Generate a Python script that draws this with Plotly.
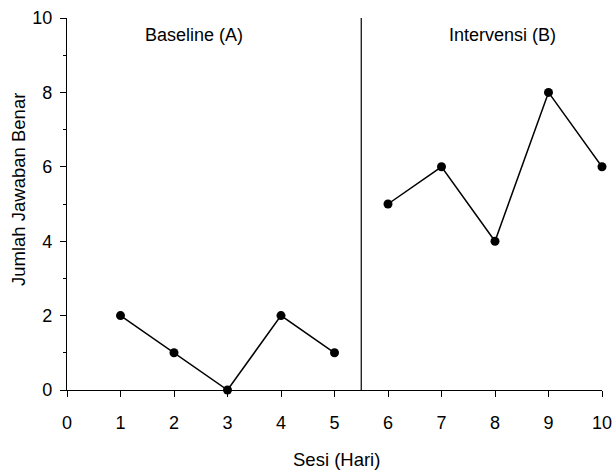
import plotly.graph_objects as go

sesi_a = [1, 2, 3, 4, 5]
nilai_a = [2, 1, 0, 2, 1]
sesi_b = [6, 7, 8, 9, 10]
nilai_b = [5, 6, 4, 8, 6]
phase_labels = ["Baseline (A)", "Intervensi (B)"]
phase_label_x = [2.38, 8.14]
phase_change = 5.5
x_title = "Sesi (Hari)"
y_title = "Jumlah Jawaban Benar"

font = "Liberation Sans, Arial, sans-serif"
fig = go.Figure()
for xs, ys in [(sesi_a, nilai_a), (sesi_b, nilai_b)]:
    fig.add_trace(go.Scatter(x=xs, y=ys, mode="lines+markers",
                             line=dict(color="black", width=1.5),
                             marker=dict(color="black", size=9),
                             cliponaxis=False, showlegend=False))

fig.add_shape(type="line", x0=phase_change, x1=phase_change, y0=0, y1=10,
              xref="x", yref="y", line=dict(color="black", width=1.2))
for lab, lx in zip(phase_labels, phase_label_x):
    fig.add_annotation(x=lx, y=9.54, text=lab, showarrow=False, xref="x", yref="y",
                       font=dict(family=font, size=18, color="black"))

fig.add_annotation(x=0.503, y=0, xref="paper", yref="paper", yshift=-69, text=x_title,
                   showarrow=False, xanchor="center", yanchor="middle",
                   font=dict(family=font, size=18.5, color="black"))
fig.add_annotation(x=0, y=0.5376, xref="paper", yref="paper", xshift=-49, text=y_title,
                   textangle=-90, showarrow=False, xanchor="center", yanchor="middle",
                   font=dict(family=font, size=18.5, color="black"))

fig.update_layout(
    width=613, height=471, plot_bgcolor="white", paper_bgcolor="white",
    margin=dict(l=67, r=11, t=18, b=81),
    font=dict(family=font, size=18, color="black"),
)
fig.update_xaxes(range=[0, 10], tickvals=list(range(0, 11)), showgrid=False, zeroline=False,
                 showline=True, linecolor="black", linewidth=1.2, automargin=False,
                 ticks="outside", ticklen=6, tickcolor="black", tickwidth=1.2,
                 ticklabelstandoff=10, tickfont=dict(size=18))
fig.update_yaxes(range=[0, 10], tickvals=list(range(0, 11, 2)), showgrid=False, zeroline=False,
                 showline=True, linecolor="black", linewidth=1.2, automargin=False,
                 ticks="outside", ticklen=6, tickcolor="black", tickwidth=1.2,
                 ticklabelstandoff=4, tickfont=dict(size=18),
                 minor=dict(ticks="outside", ticklen=3, tickvals=[1, 3, 5, 7, 9], tickcolor="black"))
fig.write_html("out.html", config={"displayModeBar": False},
               post_script="document.body.style.margin='0';document.body.style.overflow='hidden';")
